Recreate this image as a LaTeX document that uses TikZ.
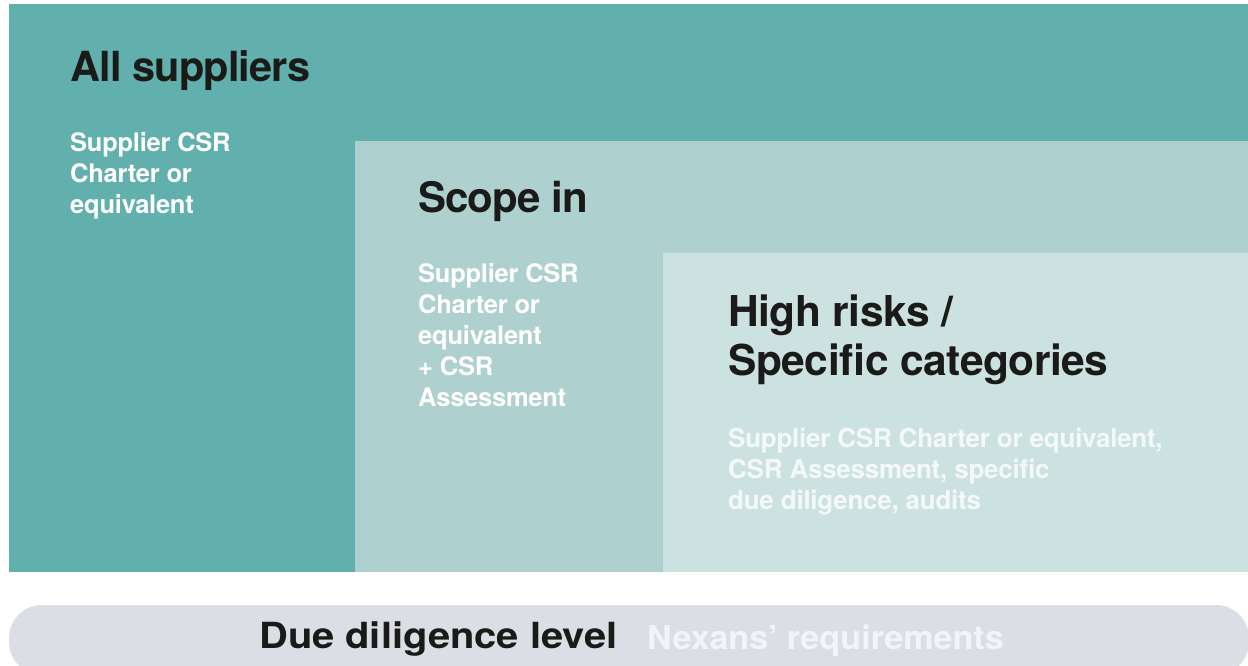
\documentclass[tikz,border=0pt]{standalone}
\usepackage{fontspec}
\setmainfont{TeX Gyre Heros}
\definecolor{tealA}{HTML}{61B0AD}
\definecolor{tealB}{HTML}{AED0CF}
\definecolor{tealC}{HTML}{CCE2E0}
\definecolor{pillC}{HTML}{DCDEE6}
\definecolor{darkT}{HTML}{1A1A18}
\definecolor{lightT}{HTML}{F4F8F8}
\definecolor{pillT}{HTML}{F3F4F7}
\tikzset{
  heading/.style={anchor=base west, inner sep=0pt, text=darkT,
    font=\fontsize{41.5}{49}\selectfont\bfseries\addfontfeature{LetterSpace=-2}},
  bodytext/.style={anchor=base west, inner sep=0pt, text=white,
    font=\fontsize{25.5}{31}\selectfont\bfseries\addfontfeature{LetterSpace=-1}}
}
\begin{document}
\begin{tikzpicture}[x=1pt,y=-1pt]
\useasboundingbox (0,0) rectangle (1248,666);
\clip (0,0) rectangle (1248,666);
\fill[tealA] (9,4) rectangle (1248,572);
\fill[tealB] (355,141) rectangle (1248,572);
\fill[tealC] (663,253) rectangle (1248,572);
\fill[pillC, rounded corners=33pt] (9,605) rectangle (1249,675);
\node[heading] (all) at (70,82) {All suppliers};
\node[bodytext] (allb) at (70,152) {\vtop{\hbox{Supplier CSR}\hbox{Charter or}\hbox{equivalent}}};
\node[heading, font=\fontsize{42}{49}\selectfont\bfseries\addfontfeature{LetterSpace=-2}] (scope) at (418,212) {Scope in};
\node[bodytext] (scopeb) at (418,282) {\vtop{\hbox{Supplier CSR}\hbox{Charter or}\hbox{equivalent}\hbox{+ CSR}\hbox{Assessment}}};
\node[heading, font=\fontsize{42.5}{49}\selectfont\bfseries\addfontfeature{LetterSpace=-1}] (high) at (728,326) {\vtop{\hbox{High risks /}\hbox{Specific categories}}};
\node[bodytext, text=lightT, font=\fontsize{26}{31}\selectfont\bfseries\addfontfeature{LetterSpace=-1}] (highb) at (728,447) {\vtop{\hbox{Supplier CSR Charter or equivalent,}\hbox{CSR Assessment, specific}\hbox{due diligence, audits}}};
\node[heading, font=\fontsize{36}{40}\selectfont\bfseries\addfontfeature{FakeStretch=1.108}] (due) at (259,648) {Due diligence level};
\node[heading, text=pillT, font=\fontsize{33}{40}\selectfont\bfseries\addfontfeature{FakeStretch=1.035}] (nex) at (647,649) {Nexans’ requirements};
\end{tikzpicture}
\end{document}
